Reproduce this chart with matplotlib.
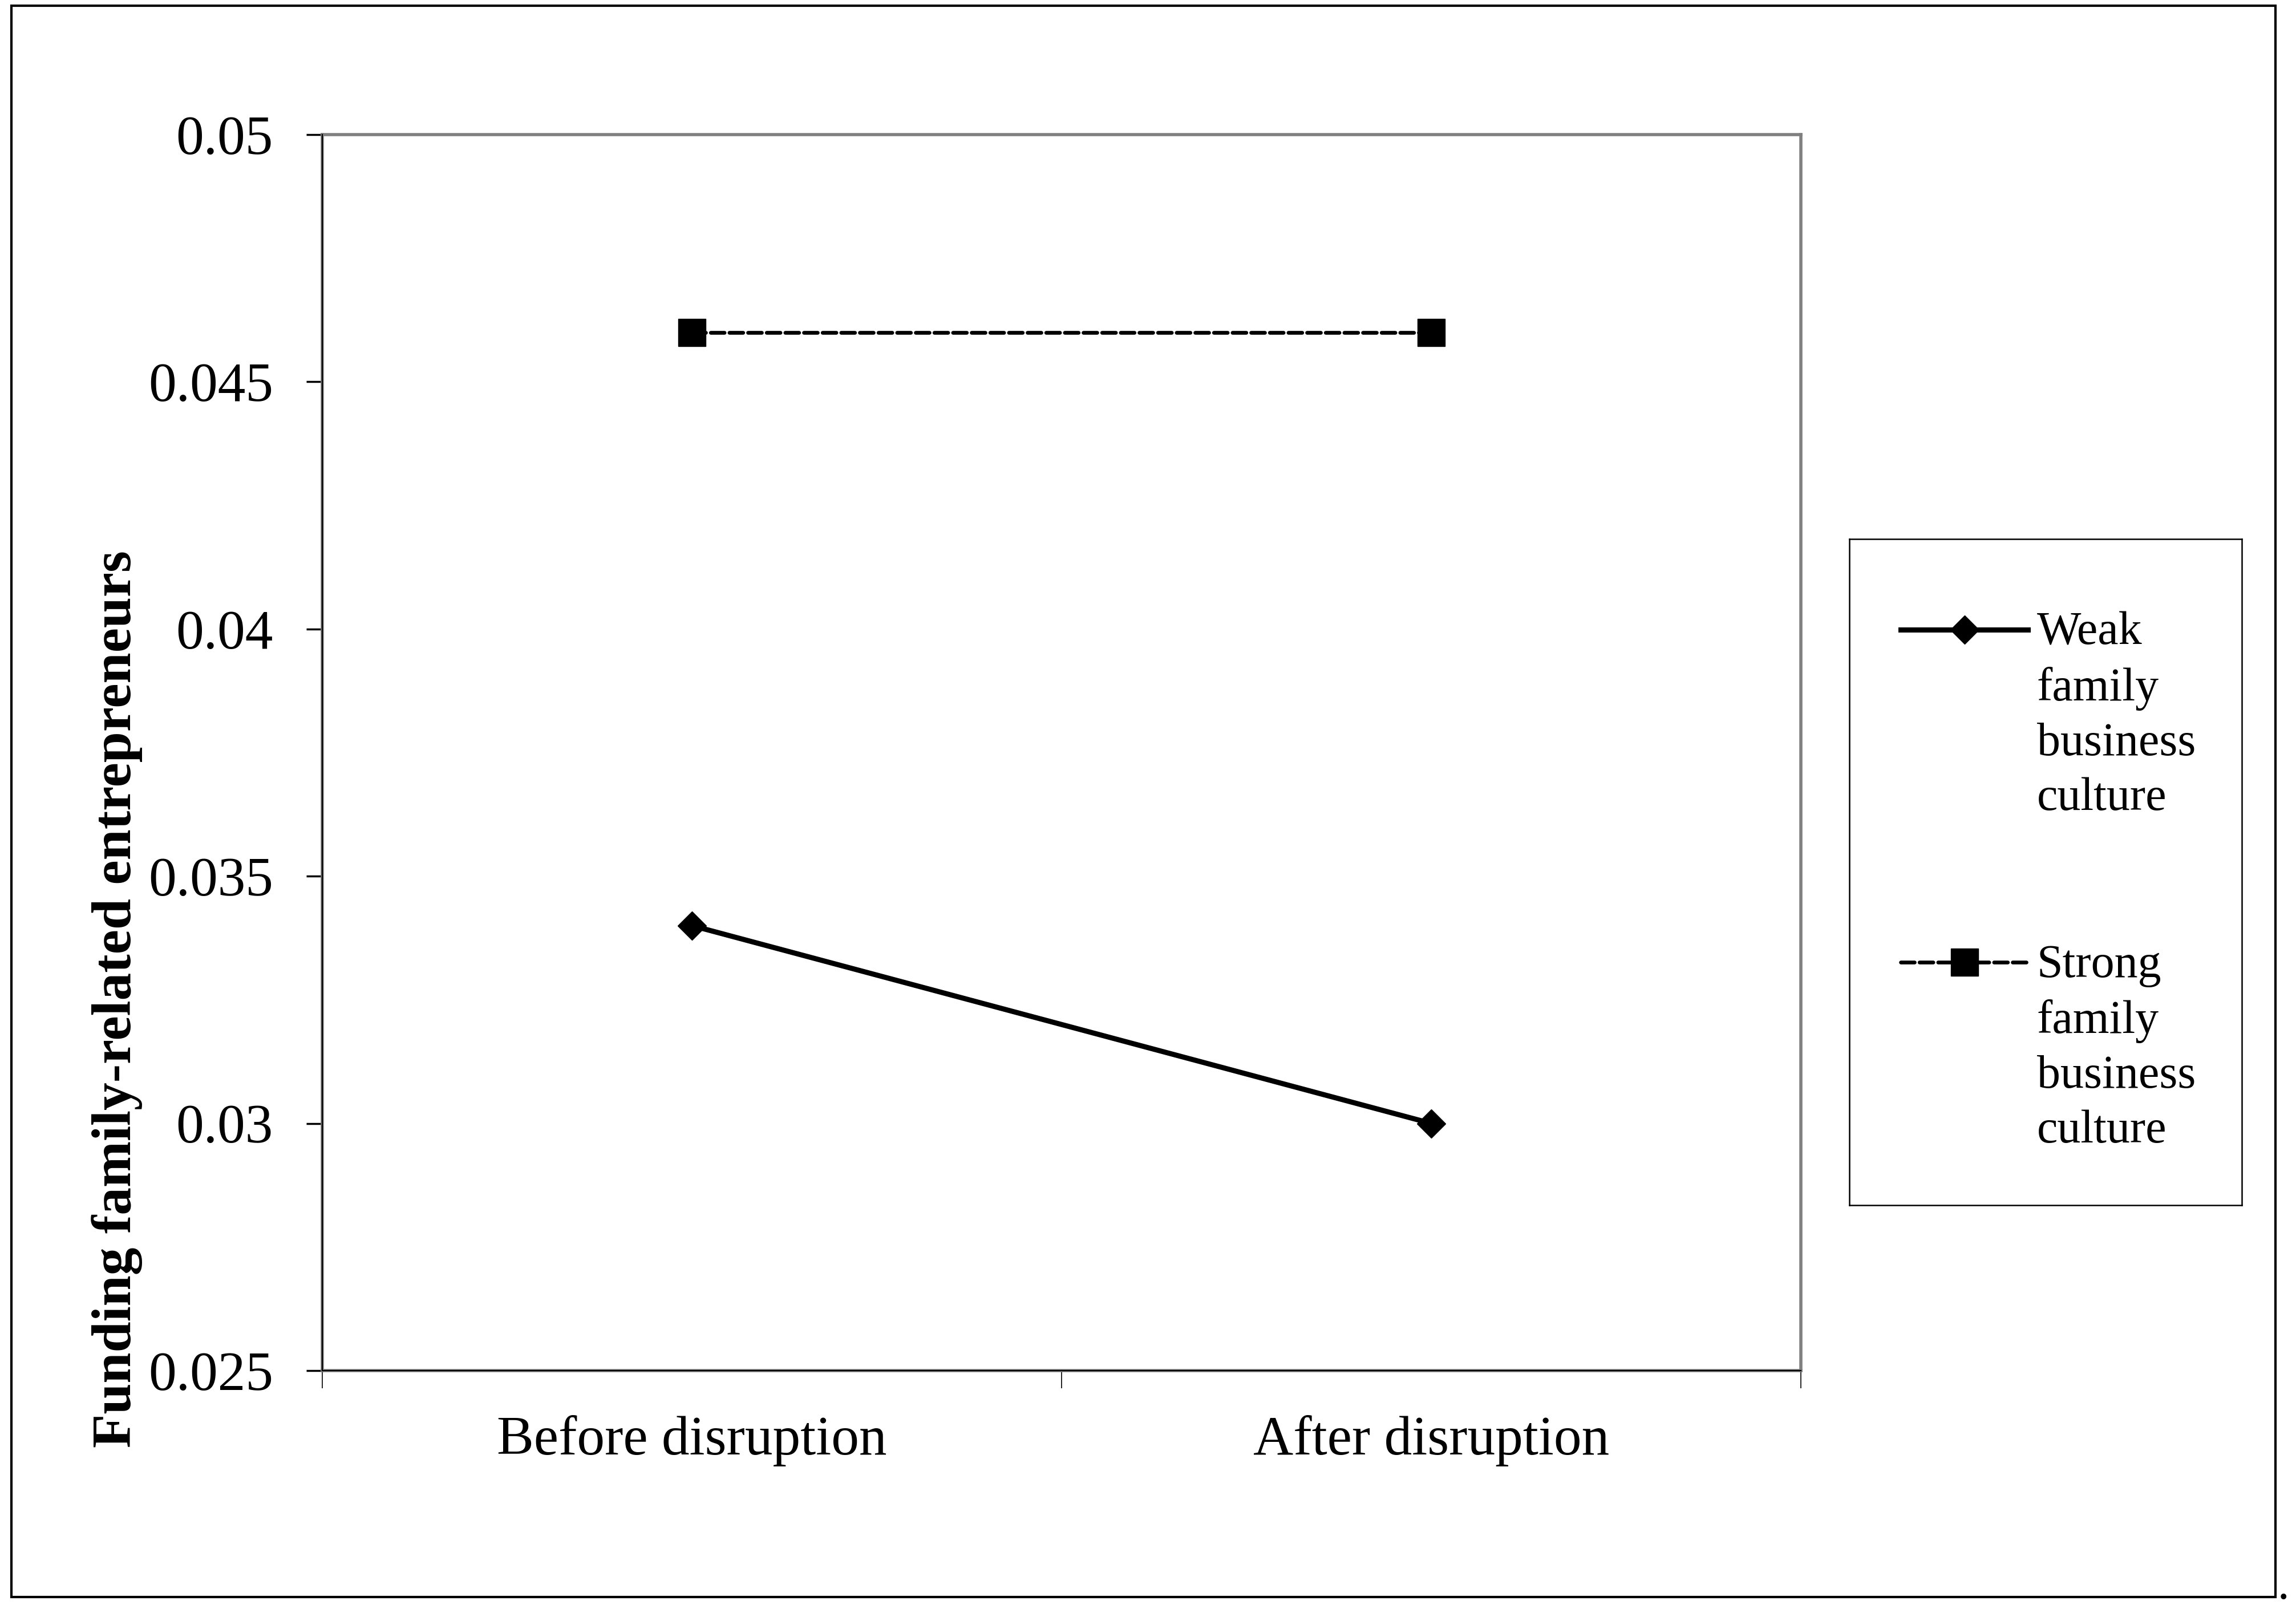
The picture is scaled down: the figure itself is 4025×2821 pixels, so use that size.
import numpy as np
import matplotlib
matplotlib.use("Agg")
import matplotlib.pyplot as plt
from matplotlib.patches import Rectangle

plt.rcParams['font.family'] = ['Liberation Serif', 'DejaVu Serif']

# data
categories = ["Before disruption", "After disruption"]
weak = [0.034, 0.030]
strong = [0.046, 0.046]
series_labels = ["Weak\nfamily\nbusiness\nculture", "Strong\nfamily\nbusiness\nculture"]
yticks = [0.025, 0.03, 0.035, 0.04, 0.045, 0.05]
ytick_labels = ["0.025", "0.03", "0.035", "0.04", "0.045", "0.05"]
ylabel = "Funding family-related entrepreneurs"

# style for each series
weak_style = dict(color='black', linestyle='-', linewidth=6.5, marker='D',
                  markersize=25, markerfacecolor='black', markeredgecolor='black')
strong_style = dict(color='black', linestyle=(0, (3.6, 1.3)), linewidth=4.8, marker='s',
                    markersize=34, markerfacecolor='black', markeredgecolor='black',
                    dash_capstyle='round')

fig = plt.figure(figsize=(40.25, 28.21), dpi=100)
ax = fig.add_axes([0.1404, 0.1482, 0.6439, 0.7681])

x = np.arange(len(categories)) + 0.5
ax.plot(x, weak, **weak_style)
ax.plot(x, strong, **strong_style)

ax.set_xlim(0, len(categories))
ax.set_ylim(yticks[0], yticks[-1])

# y axis
ax.set_yticks(yticks)
ax.set_yticklabels(ytick_labels, fontsize=70)
ax.tick_params(axis='y', direction='out', length=20, width=2.5, pad=42, color='black')

# x axis: tick marks on category borders, labels in the middle
ax.set_xticks(np.arange(len(categories) + 1))
ax.set_xticklabels([])
ax.tick_params(axis='x', which='major', direction='out', length=22, width=1.2, color='black')
ax.set_xticks(x, minor=True)
ax.set_xticklabels(categories, minor=True, fontsize=70)
ax.tick_params(axis='x', which='minor', length=0, pad=56)

# plot area border in grey with black axis lines on top
for s in ax.spines.values():
    s.set_color('#808080')
    s.set_linewidth(4)
ax.axvline(0, color='black', linewidth=1.6, clip_on=False, zorder=3)
ax.axhline(yticks[0], color='black', linewidth=1.6, clip_on=False, zorder=3)

fig.text(0.051, 0.379, ylabel, rotation=90, ha='center', va='center',
         fontsize=70, fontweight='bold')

# legend box
lax = fig.add_axes([0.8055, 0.251, 0.1709, 0.414])
lax.set_xlim(0, 1)
lax.set_ylim(0, 1)
lax.set_xticks([])
lax.set_yticks([])
for s in lax.spines.values():
    s.set_color('black')
    s.set_linewidth(1.8)
leg_y = [0.864, 0.365]
for style, lab, yy in zip([weak_style, strong_style], series_labels, leg_y):
    lax.plot([0.131, 0.293, 0.455], [yy, yy, yy], markevery=[1], **style)
    lax.text(0.478, yy + 0.027, lab, fontsize=59, ha='left', va='top', linespacing=1.36)

# outer frame and the stray period
fig.add_artist(Rectangle((20 / 4025, 1 - 2800 / 2821), 3969 / 4025, 2790 / 2821,
                         transform=fig.transFigure, fill=False, edgecolor='black', linewidth=3))
fig.text(0.9945, 0.0065, ".", fontsize=59, ha='center', va='baseline')

fig.savefig("out.png", dpi=100, facecolor='white')
